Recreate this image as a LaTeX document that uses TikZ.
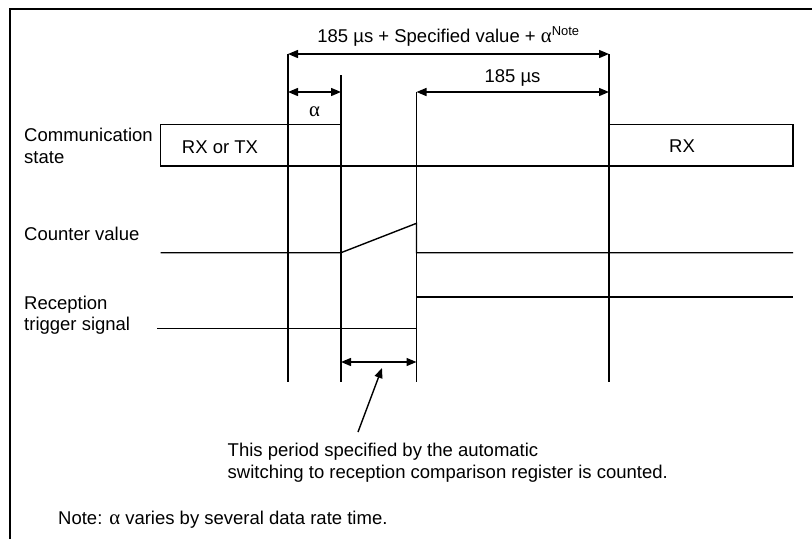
\documentclass[tikz,border=0pt]{standalone}
\usepackage{fontspec}
\setmainfont{Liberation Sans}
\newfontfamily\grk[Scale=1.12]{Liberation Serif}
\usetikzlibrary{arrows.meta}
\begin{document}
\begin{tikzpicture}[x=1pt,y=-1pt,
  sig/.style={line width=1.4pt},
  vline/.style={line width=1.4pt},
  frame/.style={line width=2pt},
  dim/.style={line width=1.4pt,{Triangle[length=10pt,width=8pt]}-{Triangle[length=10pt,width=8pt]}},
  pointer/.style={line width=1.4pt,-{Triangle[length=10pt,width=8pt]}},
  txt/.style={inner sep=0pt,font=\fontsize{18.5}{22}\selectfont},
  lbl/.style={txt,anchor=base west},
  ctr/.style={txt,anchor=base}]
\useasboundingbox (0,0) rectangle (812,539);
% frame
\coordinate (fbl) at (10,539);
\coordinate (ftl) at (10,8.5);
\coordinate (ftr) at (812,8.5);
\draw[frame] (fbl) -- (ftl) -- (ftr);
% vertical timing lines
\coordinate (at) at (288,54);   \coordinate (ab) at (288,381.5);
\coordinate (bt) at (341,75);   \coordinate (bb) at (341,381.5);
\coordinate (ct) at (416.5,92); \coordinate (cb) at (416.5,381.5);
\coordinate (dt) at (609,54);   \coordinate (db) at (609,381.5);
\draw[vline] (at) -- (ab);
\draw[vline] (bt) -- (bb);
\draw[vline] (ct) -- (cb);
\draw[vline] (dt) -- (db);
% dimension arrows
\coordinate (a92) at (288,92); \coordinate (b92) at (341,92);
\coordinate (b362) at (341,362); \coordinate (c362) at (416.5,362);
\draw[dim] (at) -- (dt);
\draw[dim] (a92) -- (b92);
\draw[dim] (ct) -- (dt |- ct);
\draw[dim] (b362) -- (c362);
% communication state
\coordinate (s1) at (341,124.5);
\coordinate (s2) at (160.5,124.5);
\coordinate (s3) at (160.5,166);
\coordinate (s4) at (793,166);
\coordinate (s5) at (793,124.5);
\coordinate (s6) at (609,124.5);
\draw[sig] (s1) -- (s2) -- (s3) -- (s4) -- (s5) -- (s6);
% counter value
\coordinate (k1) at (160.5,252.7);
\coordinate (k2) at (341,252.7);
\coordinate (k3) at (416.5,223.3);
\coordinate (k4) at (416.5,252.7);
\coordinate (k5) at (793,252.7);
\draw[sig] (k1) -- (k2) -- (k3) -- (k4) -- (k5);
% reception trigger signal
\coordinate (r1) at (157,328.3);
\coordinate (r2) at (416.5,328.3);
\coordinate (r3) at (416.5,297);
\coordinate (r4) at (793,297);
\draw[sig] (r1) -- (r2) -- (r3) -- (r4);
% pointer
\coordinate (p1) at (358,432);
\coordinate (p2) at (382,368);
\draw[pointer] (p1) -- (p2);
% texts
\node[ctr] (ttop) at (448.5,42) {185 µs + Specified value + {\grk α}\textsuperscript{Note}};
\node[ctr] (talpha) at (314.5,116) {\grk α};
\node[ctr] (t185) at (512.5,82.3) {185 µs};
\node[ctr] (trxtx) at (220,153) {RX or TX};
\node[ctr] (trx) at (682,152.5) {RX};
\node[lbl] (lcs1) at (24,141.7) {Communication};
\node[lbl] (lcs2) at (24,163.3) {state};
\node[lbl] (lcv) at (24,240.7) {Counter value};
\node[lbl] (lrt1) at (24,309.3) {Reception};
\node[lbl] (lrt2) at (24,330.5) {trigger signal};
\node[lbl] (tp1) at (227.5,456.7) {This period specified by the automatic};
\node[lbl] (tp2) at (227.5,478.3) {switching to reception comparison register is counted.};
\node[lbl] (tnote) at (58,524.5) {Note: {\grk α} varies by several data rate time.};
\end{tikzpicture}
\end{document}
